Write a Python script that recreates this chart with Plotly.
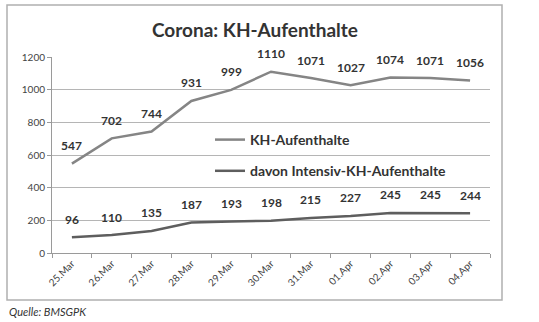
import plotly.graph_objects as go

dates = ["25.Mar", "26.Mar", "27.Mar", "28.Mar", "29.Mar", "30.Mar", "31.Mar", "01.Apr", "02.Apr", "03.Apr", "04.Apr"]
kh = [547, 702, 744, 931, 999, 1110, 1071, 1027, 1074, 1071, 1056]
intensiv = [96, 110, 135, 187, 193, 198, 215, 227, 245, 245, 244]
y_ticks = [0, 200, 400, 600, 800, 1000, 1200]

FONT = "Lato"
L, R, T, B = 52, 49, 57, 69
PW, PH = 539 - L - R, 322 - T - B

def px(xp):
    return (xp - L) / PW

def py(yp):
    return (322 - B - yp) / PH

fig = go.Figure()
fig.add_trace(go.Scatter(
    x=dates, y=kh, mode="lines", name="KH-Aufenthalte",
    line=dict(color="#858585", width=2.5), legendgroup="a",
))
fig.add_trace(go.Scatter(
    x=dates, y=intensiv, mode="lines", name="davon Intensiv-KH-Aufenthalte",
    line=dict(color="#5e5e5e", width=2.5), legendgroup="b",
))

annotations = []
for series in (kh, intensiv):
    for d, v in zip(dates, series):
        annotations.append(dict(x=d, y=v, xref="x", yref="y", text=f"<b>{v}</b>",
                                showarrow=False, yshift=18, yanchor="middle",
                                font=dict(family=FONT, size=12, color="#333333")))
annotations.append(dict(text="<i>Quelle: BMSGPK</i>", xref="paper", yref="paper",
                        x=px(7), y=py(311), xanchor="left", yanchor="middle",
                        showarrow=False, font=dict(family=FONT, size=11, color="#333333")))

fig.update_layout(
    width=539, height=322,
    margin=dict(l=L, r=R, t=T, b=B),
    paper_bgcolor="white", plot_bgcolor="white",
    font=dict(family=FONT, color="#444444"),
    title=dict(text="<b>Corona: KH-Aufenthalte</b>", x=0.473, xref="container",
               xanchor="center", y=1 - 30 / 322, yref="container", yanchor="middle",
               font=dict(family=FONT, size=19, color="#333333")),
    showlegend=True,
    legend=dict(x=px(210), y=py(124), xanchor="left", yanchor="top",
                bgcolor="rgba(0,0,0,0)", tracegroupgap=10,
                font=dict(family=FONT, size=14, color="#333333", weight="bold"),
                itemwidth=30),
    xaxis=dict(type="category", range=[-0.5, 10.5], showgrid=False,
               showline=True, linecolor="#9a9a9a", linewidth=1,
               ticks="outside", tickson="boundaries", ticklen=4, tickcolor="#9a9a9a",
               tickangle=-45, tickfont=dict(family=FONT, size=10, color="#444444")),
    yaxis=dict(range=[0, 1200], tickvals=y_ticks, showgrid=True, gridcolor="#b5b5b5",
               gridwidth=1, showline=True, linecolor="#9a9a9a", linewidth=1,
               ticks="outside", ticklen=4, tickcolor="#9a9a9a", zeroline=False,
               tickfont=dict(family=FONT, size=10, color="#444444")),
    shapes=[dict(type="rect", xref="paper", yref="paper",
                 x0=px(7), x1=px(502), y0=py(300), y1=py(5),
                 line=dict(color="#b0b0b0", width=1.5), layer="below")],
    annotations=annotations,
)

fig.write_html("out.html")
